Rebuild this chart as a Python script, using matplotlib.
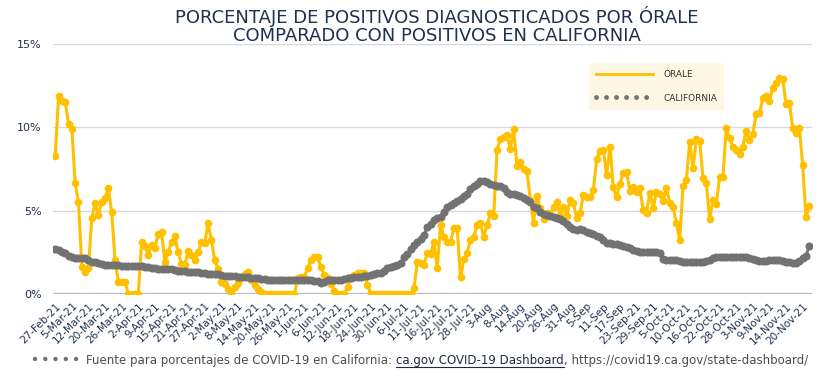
import numpy as np
import matplotlib.pyplot as plt
from matplotlib.lines import Line2D

# Etiquetas del eje x (una cada 5 puntos)
tick_labels = [
    "27-Feb-21", "5-Mar-21", "12-Mar-21", "20-Mar-21", "26-Mar-21", "2-Apr-21",
    "9-Apr-21", "15-Apr-21", "21-Apr-21", "27-Apr-21", "2-May-21", "8-May-21",
    "14-May-21", "20-May-21", "26-May-21", "1-Jun-21", "6-Jun-21", "12-Jun-21",
    "18-Jun-21", "24-Jun-21", "30-Jun-21", "6-Jul-21", "11-Jul-21", "16-Jul-21",
    "22-Jul-21", "28-Jul-21", "3-Aug", "8-Aug", "14-Aug", "20-Aug", "26-Aug",
    "31-Aug", "5-Sep", "11-Sep", "17-Sep", "23-Sep-21", "29-Sep-21", "5-Oct-21",
    "10-Oct-21", "16-Oct-21", "22-Oct-21", "28-Oct-21", "3-Nov-21", "9-Nov-21",
    "14-Nov-21", "20-Nov-21",
]

# Porcentaje de positivos, Órale (%)
orale = [
    8.28, 11.88, 11.6, 11.52, 10.2, 9.9, 6.65, 5.5, 1.65, 1.35,
    1.55, 4.55, 5.45, 4.75, 5.5, 5.75, 6.35, 4.9, 2.05, 0.7,
    0.7, 0.75, 0, 0, 0, 0, 3.1, 2.9, 2.35, 2.95,
    2.75, 3.6, 3.7, 1.9, 2.55, 3.1, 3.5, 2.5, 1.8, 1.75,
    2.6, 2.35, 2.05, 2.5, 3.1, 3.05, 4.25, 3.25, 2.05, 1.5,
    0.75, 0.6, 0.3, 0.15, 0.45, 0.65, 0.95, 1.2, 1.35, 0.85,
    0.55, 0.3, 0.1, 0, 0, 0, 0, 0, 0, 0,
    0, 0, 0, 0.95, 1.0, 1.05, 1.55, 2.05, 2.2, 2.2,
    1.6, 1.15, 0.95, 0.6, 0.2, 0, 0, 0, 0.45, 1.05,
    1.15, 1.25, 1.25, 1.25, 0.55, 0, 0, 0, 0, 0,
    0, 0, 0, 0, 0, 0, 0, 0, 0.35, 1.95,
    1.84, 1.74, 2.48, 2.4, 3.14, 1.54, 4.14, 3.44, 3.14, 3.14,
    3.94, 3.94, 1.0, 2.08, 2.48, 3.24, 3.44, 4.14, 4.24, 3.44,
    4.14, 4.84, 4.68, 8.64, 9.28, 9.4, 9.54, 8.68, 9.88, 7.68,
    7.94, 7.48, 7.4, 5.64, 4.28, 5.9, 5.14, 4.48, 4.84, 4.8,
    5.2, 5.54, 4.74, 5.24, 4.68, 5.64, 5.44, 4.54, 4.84, 5.94,
    5.8, 5.8, 6.24, 8.08, 8.6, 8.65, 7.14, 8.84, 6.4, 5.8,
    6.6, 7.28, 7.34, 6.2, 6.4, 6.14, 6.34, 5.04, 4.88, 6.08,
    5.14, 6.14, 6.0, 5.6, 6.34, 5.48, 5.2, 4.24, 3.24, 6.48,
    6.84, 9.14, 7.54, 9.28, 9.18, 6.94, 6.68, 4.48, 5.64, 5.4,
    7.0, 7.0, 9.94, 9.34, 8.84, 8.64, 8.4, 8.84, 9.8, 9.24,
    9.6, 10.8, 10.84, 11.74, 11.88, 11.6, 12.34, 12.64, 12.94, 12.9,
    11.4, 11.48, 9.98, 9.64, 9.98, 7.74, 4.64, 5.28,
]

# Porcentaje de positivos, California (%)
california = [
    2.70, 2.62, 2.55, 2.45, 2.30, 2.20, 2.15, 2.15, 2.15, 2.15,
    2.05, 1.95, 1.90, 1.85, 1.80, 1.75, 1.75, 1.74, 1.73, 1.72,
    1.71, 1.70, 1.70, 1.69, 1.68, 1.67, 1.66, 1.65, 1.65, 1.56,
    1.55, 1.53, 1.52, 1.50, 1.50, 1.48, 1.42, 1.40, 1.38, 1.36,
    1.35, 1.34, 1.32, 1.30, 1.26, 1.25, 1.23, 1.21, 1.20, 1.18,
    1.12, 1.10, 1.08, 1.07, 1.06, 1.05, 1.03, 1.02, 1.00, 0.98,
    0.96, 0.95, 0.93, 0.88, 0.86, 0.85, 0.85, 0.84, 0.84, 0.83,
    0.83, 0.83, 0.82, 0.82, 0.82, 0.82, 0.82, 0.82, 0.81, 0.78,
    0.65, 0.75, 0.82, 0.82, 0.82, 0.83, 0.85, 0.90, 0.95, 0.98,
    1.00, 1.04, 1.05, 1.08, 1.10, 1.15, 1.20, 1.25, 1.28, 1.40,
    1.55, 1.60, 1.70, 1.75, 1.88, 2.20, 2.40, 2.70, 2.95, 3.10,
    3.30, 3.55, 4.00, 4.18, 4.42, 4.55, 4.65, 4.95, 5.20, 5.32,
    5.48, 5.58, 5.72, 5.88, 6.02, 6.28, 6.48, 6.62, 6.78, 6.76,
    6.70, 6.62, 6.52, 6.50, 6.50, 6.35, 6.10, 6.00, 5.97, 5.95,
    5.90, 5.75, 5.65, 5.50, 5.25, 5.15, 4.95, 4.82, 4.77, 4.68,
    4.62, 4.58, 4.52, 4.40, 4.20, 4.02, 3.88, 3.85, 3.88, 3.85,
    3.74, 3.66, 3.58, 3.50, 3.40, 3.25, 3.08, 3.05, 3.02, 2.98,
    2.95, 2.88, 2.84, 2.78, 2.65, 2.58, 2.54, 2.50, 2.55, 2.55,
    2.55, 2.54, 2.45, 2.10, 2.05, 2.05, 2.05, 2.03, 2.00, 1.95,
    1.95, 1.95, 1.90, 1.90, 1.95, 1.90, 2.00, 2.05, 2.15, 2.20,
    2.25, 2.25, 2.25, 2.25, 2.25, 2.25, 2.25, 2.22, 2.20, 2.15,
    2.10, 2.05, 2.00, 2.00, 2.00, 2.02, 2.05, 2.05, 2.02, 2.00,
    1.95, 1.92, 1.88, 1.85, 2.00, 2.15, 2.28, 2.90,
]

navy = "#1f3050"
yellow = "#FFC000"
gray = "#727272"

x = np.arange(len(orale))

fig = plt.figure(figsize=(8.4, 3.78), dpi=100)
ax = fig.add_axes([0.063, 0.222, 0.904, 0.662])

ax.plot(x, orale, color=yellow, lw=2.2, marker="o", ms=4.5, zorder=3)
ax.plot(x, california, color=gray, lw=2, marker="o", ms=4.8, zorder=4)

ax.set_xlim(-0.7, len(orale) - 0.1)
ax.set_ylim(0, 15)
ax.set_yticks([0, 5, 10, 15])
ax.set_yticklabels(["0%", "5%", "10%", "15%"])
ax.set_xticks(np.arange(0, len(tick_labels) * 5, 5))
ax.set_xticklabels(tick_labels, rotation=45, ha="right", rotation_mode="anchor")

ax.tick_params(axis="y", length=0, pad=8, labelsize=8, labelcolor=navy)
ax.tick_params(axis="x", length=0, pad=5, labelsize=7.5, labelcolor=navy)
ax.grid(axis="y", color="#d5d9e0", lw=1)
ax.set_axisbelow(True)
for s in ax.spines.values():
    s.set_visible(False)
ax.axhline(0, color="#b3bbc9", lw=1.6, zorder=2)

# Leyenda
handles = [
    Line2D([], [], color=yellow, lw=2),
    Line2D([], [], color=gray, lw=3.5, linestyle=(0, (0.01, 2.05)),
           dash_capstyle="round"),
]
leg = ax.legend(handles, ["ÓRALE", "CALIFORNIA"], loc="upper left",
                bbox_to_anchor=(0.706, 0.924), borderaxespad=0, fontsize=6.5,
                handlelength=6.3, handletextpad=1.1, labelspacing=1.6,
                borderpad=0.8, frameon=True, fancybox=False)
leg.get_frame().set_facecolor("#fef7e4")
leg.get_frame().set_edgecolor("none")
leg.get_frame().set_alpha(1)
for t in leg.get_texts():
    t.set_color("#333333")

# Título
fig.text(0.52, 0.985,
         "PORCENTAJE DE POSITIVOS DIAGNOSTICADOS POR ÓRALE\n"
         "COMPARADO CON POSITIVOS EN CALIFORNIA",
         ha="center", va="top", fontsize=13, color=navy,
         linespacing=1.05)

# Nota de fuente
fig.add_artist(Line2D([35 / 840, 77 / 840], [19 / 378, 19 / 378], color=gray,
                      lw=3.2, linestyle=(0, (0.01, 2.3)), dash_capstyle="round",
                      transform=fig.transFigure))
parts = [
    ("Fuente para porcentajes de COVID-19 en California: ", "#4d4d4d", False),
    ("ca.gov COVID-19 Dashboard", "#1f2a44", True),
    (", https://covid19.ca.gov/state-dashboard/", "#4d4d4d", False),
]
fig.canvas.draw()
renderer = fig.canvas.get_renderer()
xpos = 86 / 840
for txt, col, underline in parts:
    t = fig.text(xpos, 14 / 378, txt, ha="left", va="baseline", fontsize=8.5,
                 color=col)
    bb = t.get_window_extent(renderer)
    bbf = bb.transformed(fig.transFigure.inverted())
    if underline:
        fig.add_artist(Line2D([bbf.x0, bbf.x1], [11.5 / 378, 11.5 / 378],
                              color=col, lw=0.8, transform=fig.transFigure))
    xpos = bbf.x1

fig.savefig("out.png", dpi=100)
